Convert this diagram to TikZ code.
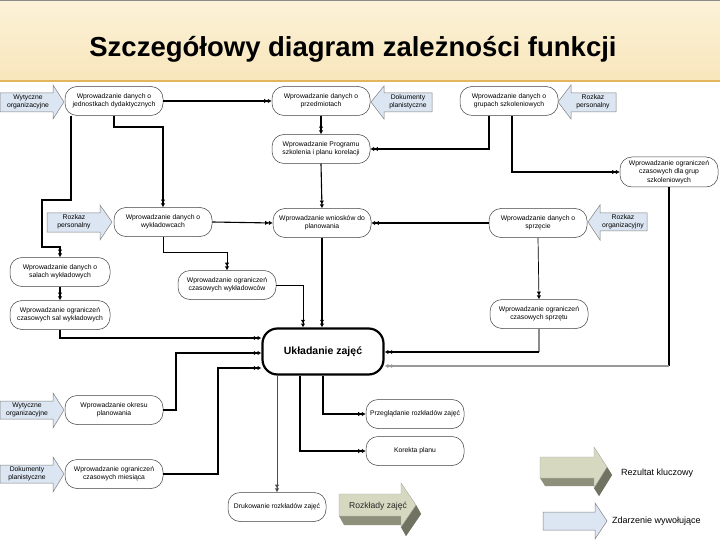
\documentclass[tikz,border=0pt]{standalone}
\usepackage{fontspec}
\setmainfont{Liberation Sans}
\usetikzlibrary{arrows.meta,calc}
\definecolor{evfill}{HTML}{DCE6F2}
\definecolor{evline}{HTML}{808080}
\definecolor{keyfront}{HTML}{D6D9C0}
\definecolor{keyside}{HTML}{707262}
\definecolor{keybottom}{HTML}{8E907B}
\definecolor{bannertop}{HTML}{FCF2D9}
\definecolor{bannerbot}{HTML}{F8E6BB}
\definecolor{bannerline}{HTML}{E4B35E}
\begin{document}
\begin{tikzpicture}[x=1pt,y=-1pt,
  proc/.style={draw=black!75, line width=0.5pt, rounded corners=12pt,
    minimum width=98pt, minimum height=29pt, align=center, inner sep=1pt,
    fill=white, font=\fontsize{6.8}{8.4}\selectfont},
  mainbox/.style={draw=black, line width=2.2pt, rounded corners=15pt,
    minimum width=121pt, minimum height=46pt, fill=white,
    font=\fontsize{10.5}{12}\selectfont\bfseries},
  evt/.style={draw=evline, line width=0.5pt, fill=evfill},
  evtext/.style={align=center, font=\fontsize{6.8}{8.2}\selectfont, inner sep=0pt},
  conn/.style={line width=1.1pt,
    -{Latex[length=3.8pt,width=4.4pt]Latex[length=3.8pt,width=4.4pt]}},
  thinconn/.style={line width=0.7pt,
    -{Latex[length=3.8pt,width=4.4pt]Latex[length=3.8pt,width=4.4pt]}},
  plain/.style={line width=1.1pt},
  legtext/.style={anchor=west, font=\fontsize{9}{10}\selectfont, inner sep=0pt}
]
\useasboundingbox (0,0) rectangle (720,540);
\fill[white] (0,0) rectangle (720,540);
% banner
\shade[top color=bannertop, bottom color=bannerbot] (0,0) rectangle (720,81);
\draw[black!45, line width=1pt] (0,0.5) -- (720,0.5);
\draw[bannerline, line width=2pt] (0,81) -- (720,81);
\node[font=\fontsize{27.5}{30}\selectfont\bfseries, anchor=base, inner sep=0pt]
  (title) at (353,57) {Szczegółowy diagram zależności funkcji};

% process nodes
\node[proc] (n1) at (114,101) {Wprowadzanie danych o\\jednostkach dydaktycznych};
\node[proc] (n2) at (321,101) {Wprowadzanie danych o\\przedmiotach};
\node[proc] (n3) at (509,101) {Wprowadzanie danych o\\grupach szkoleniowych};
\node[proc] (n4) at (321,149) {Wprowadzanie Programu\\szkolenia i planu korelacji};
\node[proc, minimum height=30pt] (n5) at (669,172) {Wprowadzanie ograniczeń\\czasowych dla grup\\szkoleniowych};
\node[proc] (n6) at (163,222) {Wprowadzanie danych o\\wykładowcach};
\node[proc] (n7) at (322,223) {Wprowadzanie wniosków do\\planowania};
\node[proc] (n8) at (538,223) {Wprowadzanie danych o\\sprzęcie};
\node[proc, minimum width=100pt] (n9) at (60,272) {Wprowadzanie danych o\\salach wykładowych};
\node[proc] (n10) at (227,285) {Wprowadzanie ograniczeń\\czasowych wykładowców};
\node[proc, minimum width=100pt] (n11) at (60,315) {Wprowadzanie ograniczeń\\czasowych sal wykładowych};
\node[proc] (n12) at (539,314) {Wprowadzanie ograniczeń\\czasowych sprzętu};
\node[mainbox] (main) at (323,351.5) {Układanie zajęć};
\node[proc] (n14) at (415,414) {Przeglądanie rozkładów zajęć};
\node[proc] (n15) at (415,451) {Korekta planu};
\node[proc] (n16) at (114,410) {Wprowadzanie okresu\\planowania};
\node[proc] (n17) at (114,474) {Wprowadzanie ograniczeń\\czasowych miesiąca};
\node[proc] (n18) at (277,507) {Drukowanie rozkładów zajęć};

% event arrows (triggering events)
\draw[evt] (0,93) -- (53,93) -- (53,85) -- (64,102) -- (53,119) -- (53,112) -- (0,112) -- cycle;
\node[evtext] (e1) at (28,102) {Wytyczne\\organizacyjne};
\draw[evt] (432,93) -- (384,93) -- (384,86) -- (371,102) -- (384,119) -- (384,112) -- (432,112) -- cycle;
\node[evtext] (e2) at (408,102) {Dokumenty\\planistyczne};
\draw[evt] (616,93) -- (571,93) -- (571,85) -- (558,102) -- (571,119) -- (571,112) -- (616,112) -- cycle;
\node[evtext] (e3) at (593,102) {Rozkaz\\personalny};
\draw[evt] (47,213) -- (100,213) -- (100,205) -- (112,222) -- (100,240) -- (100,232) -- (47,232) -- cycle;
\node[evtext] (e4) at (74,222) {Rozkaz\\personalny};
\draw[evt] (647,213) -- (600,213) -- (600,205) -- (588,222) -- (600,240) -- (600,231) -- (647,231) -- cycle;
\node[evtext] (e5) at (623,222) {Rozkaz\\organizacyjny};
\draw[evt] (0,401) -- (53,401) -- (53,393) -- (64,410) -- (53,428) -- (53,419) -- (0,419) -- cycle;
\node[evtext] (e6) at (27,410) {Wytyczne\\organizacyjne};
\draw[evt] (0,465) -- (53,465) -- (53,457) -- (64,474) -- (53,492) -- (53,483) -- (0,483) -- cycle;
\node[evtext] (e7) at (27,474) {Dokumenty\\planistyczne};

% connectors
\draw[conn] (n1.east) -- (n2.west);
\draw[conn] (71,0 |- n1.south) |- (42,200) -- (42,247) -| (n9.north);
\draw[conn] (n1.south) -- (114,127) -| (n6.north);
\draw[conn] (n2.south) -- (n4.north);
\draw[conn] (n4.south) -- (n7.north);
\draw[conn] (489,0 |- n3.south) |- (n4.east);
\draw[conn] (512,0 |- n3.south) |- (n5.west);
\draw[plain] (n5.south) -- (669,366) coordinate (k5);
\draw[conn, black!40] (k5) -- (main.east |- k5);
\draw[black!45, line width=1.1pt] (n12.south) -- (539,352) coordinate (k12);
\draw[conn] (k12) -- (main.east |- k12);
\draw[conn] (n6.east) -- (n7.west);
\draw[thinconn] (n6.south) -- (163,252) -| (n10.north);
\draw[conn] (n8.west) -- (n7.east);
\draw[thinconn] (n8.south) -- (n12.north);
\draw[conn] (n7.south) -- (n7.south |- main.north);
\draw[thinconn] (n10.east) -| (303,0 |- main.north);
\draw[conn] (n9.south) -- (n11.north);
\draw[conn] (n11.south) |- (main.west |- 0,338);
\draw[conn] (n16.east) -| (176,353) -- (main.west |- 0,353);
\draw[conn] (n17.east) -| (218,368) -- (main.west |- 0,368);
\draw[conn] (323,0 |- main.south) |- (n14.west);
\draw[conn] (300,0 |- main.south) |- (n15.west);
\draw[thinconn, black!70] (n18.north |- main.south) -- (n18.north);

% key result arrow: Rozkłady zajęć
\fill[keybottom] (339,505) -- (416,505) -- (421,514) -- (406,536) -- (401,527) -- (401,525) -- (344,525) -- (339,516) -- cycle;
\fill[keyside] (416,505) -- (421,514) -- (406,536) -- (401,527) -- cycle;
\draw[draw=black!35, line width=0.4pt, fill=keyfront] (339,494) -- (401,494) -- (401,483) -- (416,505) -- (401,527) -- (401,516) -- (339,516) -- cycle;
\node[font=\fontsize{8.6}{10}\selectfont, inner sep=0pt, black!85] (rz) at (378,506) {Rozkłady zajęć};

% legend
\fill[keybottom] (540,467) -- (607,467) -- (612,475) -- (599,496) -- (594,488) -- (594,486) -- (545,486) -- (540,478) -- cycle;
\fill[keyside] (607,467) -- (612,475) -- (599,496) -- (594,488) -- cycle;
\draw[draw=black!35, line width=0.4pt, fill=keyfront] (540,457) -- (594,457) -- (594,447) -- (607,467) -- (594,488) -- (594,478) -- (540,478) -- cycle;
\node[legtext] (l1) at (621,473) {Rezultat kluczowy};
\draw[evt] (543,512) -- (595,512) -- (595,503) -- (607,521) -- (595,539) -- (595,530) -- (543,530) -- cycle;
\node[legtext] (l2) at (612,521) {Zdarzenie wywołujące};
\end{tikzpicture}
\end{document}
